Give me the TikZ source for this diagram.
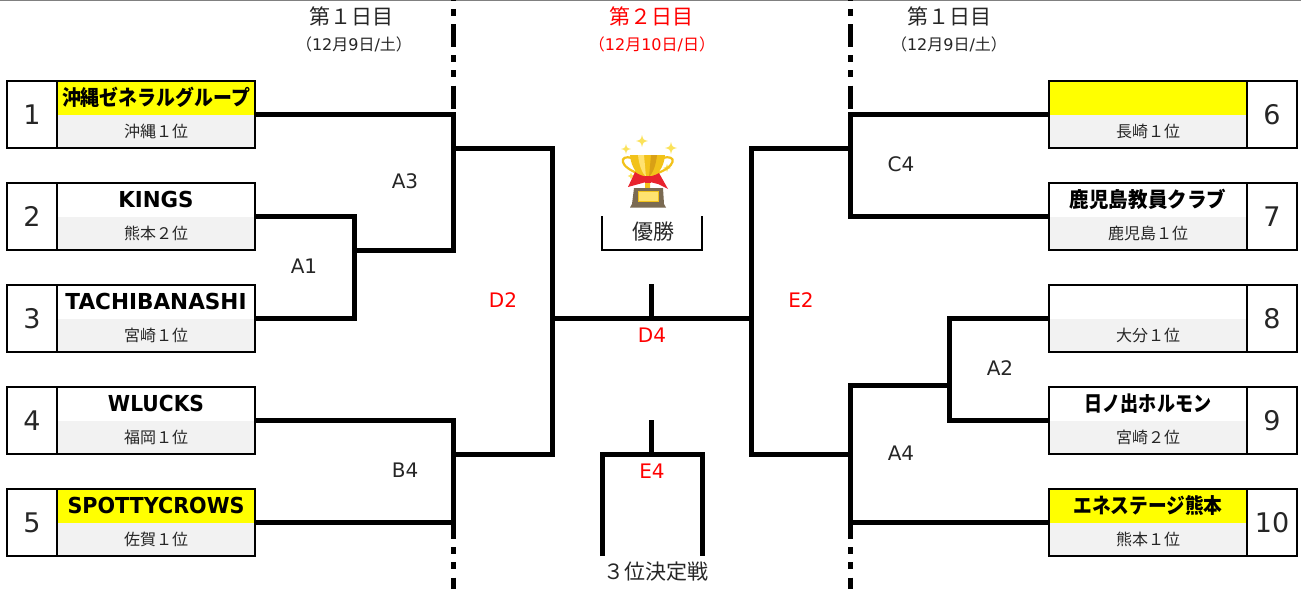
\documentclass[tikz,border=0pt]{standalone}
\usepackage{fontspec}
\setmainfont{DejaVu Sans}
\newfontfamily\jp{Noto Sans CJK JP}
\definecolor{cellgrey}{HTML}{F2F2F2}
\definecolor{hilite}{HTML}{FFFF00}
\definecolor{redlab}{HTML}{FF0000}
\definecolor{txtgrey}{HTML}{262626}
\definecolor{stargold}{HTML}{FBE25A}
\definecolor{cupgold}{HTML}{F2C21A}
\definecolor{cuplight}{HTML}{FFE270}
\definecolor{cupdark}{HTML}{D9A015}
\definecolor{ribbon}{HTML}{E8232E}
\definecolor{basebrown}{HTML}{7A6A52}
\newcommand{\fs}[1]{\fontsize{#1pt}{#1pt}\selectfont}
\tikzset{
  x=1pt,y=-1pt,
  conn/.style={draw=black,line width=5pt,miter limit=10},
  divider/.style={draw=black,line width=5pt,dash pattern=on 23pt off 8pt on 7pt off 8.25pt on 7pt off 8.25pt},
  numbox/.style={draw=black,line width=2.8pt,fill=white,minimum width=50pt,minimum height=67pt,inner sep=0pt,font=\fs{27},text=txtgrey},
  bodybox/.style={draw=black,line width=2.8pt,minimum width=198pt,minimum height=67pt,inner sep=0pt},
  namecell/.style={fill=white,minimum width=198pt,minimum height=34pt,inner sep=0pt},
  subcell/.style={fill=cellgrey,minimum width=198pt,minimum height=33pt,inner sep=0pt,font=\jp\fs{16},text=txtgrey},
  latinname/.style={inner sep=0pt,font=\fs{22}\bfseries,text=black},
  jpname/.style={inner sep=0pt,font=\jp\fs{21}\bfseries,text=black},
  roundlab/.style={inner sep=0pt,font=\fs{20},text=txtgrey},
  redround/.style={inner sep=0pt,font=\fs{20},text=redlab},
  daylab/.style={inner sep=0pt,font=\jp\fs{21},text=txtgrey},
  datelab/.style={inner sep=0pt,font=\fs{16},text=txtgrey},
  sparkle/.pic={\fill[stargold] (0,-1) .. controls (0.2,-0.2) .. (1,0) .. controls (0.2,0.2) .. (0,1) .. controls (-0.2,0.2) .. (-1,0) .. controls (-0.2,-0.2) .. cycle;},
}
\begin{document}
\begin{tikzpicture}
\useasboundingbox (0,0) rectangle (1301,589);
\coordinate (ruleL) at (0,0.5);
\coordinate (ruleR) at (1301,0.5);
\draw[gray,line width=1.2pt] (ruleL) -- (ruleR);

% day dividers
\coordinate (dLt0) at (453.5,-37.5);
\coordinate (dLt1) at (453.5,114);
\coordinate (dLb0) at (453.5,516);
\coordinate (dLb1) at (453.5,589);
\coordinate (dRt0) at (850,-37.5);
\coordinate (dRt1) at (850,114);
\coordinate (dRb0) at (850,516);
\coordinate (dRb1) at (850,589);
\begin{scope}
\clip (0,0) rectangle (1301,589);
\draw[divider] (dLt0) -- (dLt1);
\draw[divider] (dLb0) -- (dLb1);
\draw[divider] (dRt0) -- (dRt1);
\draw[divider] (dRb0) -- (dRb1);
\end{scope}

% team boxes, left
\foreach \i/\y/\sub/\fillc in {1/114.5/沖縄１位/hilite,2/216.5/熊本２位/white,3/318.5/宮崎１位/white,4/420.5/福岡１位/white,5/522.5/佐賀１位/hilite}{
  \node[namecell,fill=\fillc] (t\i) at (156,\y-17) {};
  \node[subcell] (s\i) at (156,\y+16.5) {\raisebox{0.8pt}{\sub}};
  \node[bodybox] (b\i) at (156,\y) {};
  \node[numbox] (n\i) at (32,\y) {\i};
}
% team boxes, right
\foreach \i/\y/\sub/\fillc in {6/114.5/長崎１位/hilite,7/216.5/鹿児島１位/white,8/318.5/大分１位/white,9/420.5/宮崎２位/white,10/522.5/熊本１位/hilite}{
  \node[namecell,fill=\fillc] (t\i) at (1148,\y-17) {};
  \node[subcell] (s\i) at (1148,\y+16.5) {\raisebox{0.8pt}{\sub}};
  \node[bodybox] (b\i) at (1148,\y) {};
  \node[numbox] (n\i) at (1272,\y) {\i};
}
% team names
\node[jpname] (name1) at (t1.center) {\scalebox{0.9}[1]{沖縄ゼネラルグループ}};
\node[latinname] (name2) at (t2.center) {\scalebox{0.97}[1]{KINGS}};
\node[latinname] (name3) at (t3.center) {\scalebox{0.98}[1]{TACHIBANASHI}};
\node[latinname] (name4) at (t4.center) {\scalebox{0.92}[1]{WLUCKS}};
\node[latinname] (name5) at (t5.center) {\scalebox{0.94}[1]{SPOTTYCROWS}};
\node[jpname] (name7) at (t7.center) {\scalebox{0.93}[1]{鹿児島教員クラブ}};
\node[jpname] (name9) at (t9.center) {\scalebox{0.86}[1]{日ノ出ホルモン}};
\node[jpname] (name10) at (t10.center) {\scalebox{0.89}[1]{エネステージ熊本}};

% junctions
\coordinate (a1c) at (354,318.5);
\coordinate (a1o) at (354,250);
\coordinate (a3c) at (453.5,250);
\coordinate (a3o) at (453.5,148);
\coordinate (b4c) at (453.5,522.5);
\coordinate (b4o) at (453.5,454);
\coordinate (d2b) at (552.5,454);
\coordinate (d2o) at (552.5,318);
\coordinate (e2o) at (751,318);
\coordinate (e2b) at (751,454);
\coordinate (c4c) at (850,216.5);
\coordinate (c4o) at (850,148);
\coordinate (a2c) at (949,420.5);
\coordinate (a2o) at (949,385);
\coordinate (a4c) at (850,522.5);
\coordinate (a4m) at (850,454);
\coordinate (d4t) at (651.5,284);
\coordinate (d4b) at (651.5,318);
\coordinate (e4t) at (651.5,420);
\coordinate (e4b) at (651.5,454);
\coordinate (e4r) at (702,454);
\coordinate (e4ld) at (602,556);
\coordinate (e4rd) at (702,556);
\coordinate (wl1) at (602,216);
\coordinate (wl2) at (602,250);
\coordinate (wr2) at (702,250);
\coordinate (wr1) at (702,216);

% connectors
\draw[conn] (b1.east) -| (a3c) -- (a1o);
\draw[conn] (b2.east) -| (a1c) -- (b3.east);
\draw[conn] (a3o) -| (d2b) -- (b4o);
\draw[conn] (b4.east) -| (b4c) -- (b5.east);
\draw[conn] (d2o) -- (e2o);
\draw[conn] (d4t) -- (d4b);
\draw[conn] (e4t) -- (e4b);
\draw[conn] (e4ld) |- (e4r) -- (e4rd);
\draw[conn] (c4o) -| (e2b) -- (a4m);
\draw[conn] (b6.west) -| (c4c) -- (b7.west);
\draw[conn] (b8.west) -| (a2c) -- (b9.west);
\draw[conn] (a2o) -| (a4c) -- (b10.west);
\draw[draw=black,line width=2.8pt] (wl1) -- (wl2) -- (wr2) -- (wr1);

% round labels
\node[roundlab] (la3) at (405,181) {A3};
\node[roundlab] (la1) at (304,266) {A1};
\node[roundlab] (lb4) at (405,470) {B4};
\node[roundlab] (lc4) at (901,164) {C4};
\node[roundlab] (la2) at (1000,368) {A2};
\node[roundlab] (la4) at (901,453) {A4};
\node[redround] (ld2) at (503,300) {D2};
\node[redround] (ld4) at (652,335) {D4};
\node[redround] (le2) at (801,300) {E2};
\node[redround] (le4) at (652,471) {E4};

% day labels
\node[daylab] (day1l) at (351,16) {第１日目};
\node[datelab] (date1l) at (354,44) {{\jp（}12{\jp 月}9{\jp 日}/{\jp 土）}};
\node[daylab,text=redlab] (day2) at (651,16) {第２日目};
\node[datelab,text=redlab] (date2) at (652,44) {{\jp（}12{\jp 月}10{\jp 日}/{\jp 日）}};
\node[daylab] (day1r) at (949,16) {第１日目};
\node[datelab] (date1r) at (949,44) {{\jp（}12{\jp 月}9{\jp 日}/{\jp 土）}};
\node[daylab] (win) at (653,232) {優勝};
\node[daylab] (third) at (655.5,572) {３位決定戦};

% trophy
\pic[scale=6] at (642,141) {sparkle};
\pic[scale=5] at (626,149) {sparkle};
\pic[scale=6] at (671,148) {sparkle};
\pic[scale=3.5] at (631,176) {sparkle};
\pic[scale=4] at (667,168) {sparkle};
\draw[cupgold,line width=2.2pt] (632,158) .. controls (619,154) and (618,167) .. (640,174);
\draw[cupgold,line width=2.2pt] (663,158) .. controls (677,154) and (677,167) .. (655,174);
\fill[cupgold] (630,155) -- (665,155) .. controls (664,168) and (657,176) .. (650,178) -- (650,188) -- (645,188) -- (645,178) .. controls (638,176) and (631,168) .. (630,155) -- cycle;
\fill[cuplight] (638,155) -- (644,155) -- (646,177) .. controls (642,173) and (639,165) .. (638,155) -- cycle;
\fill[cupdark] (651,155) -- (657,155) .. controls (656,165) and (653,173) .. (649,177) -- cycle;
\fill[basebrown] (634,188) -- (663,188) -- (664,204) -- (666,207.5) -- (630,207.5) -- (632,204) -- cycle;
\fill[cuplight,draw=cupgold,line width=0.8pt] (638,191) rectangle (658,201);
\fill[ribbon] (648,177) .. controls (643,176) and (639,175) .. (635,172) -- (628,187) -- (637,184.5) -- (648,181.5) -- (658,184) -- (668,189) -- (659,173) .. controls (656,175) and (652,176) .. (648,177) -- cycle;
\fill[ribbon] (645,175.5) rectangle (651,182.5);
\end{tikzpicture}
\end{document}
